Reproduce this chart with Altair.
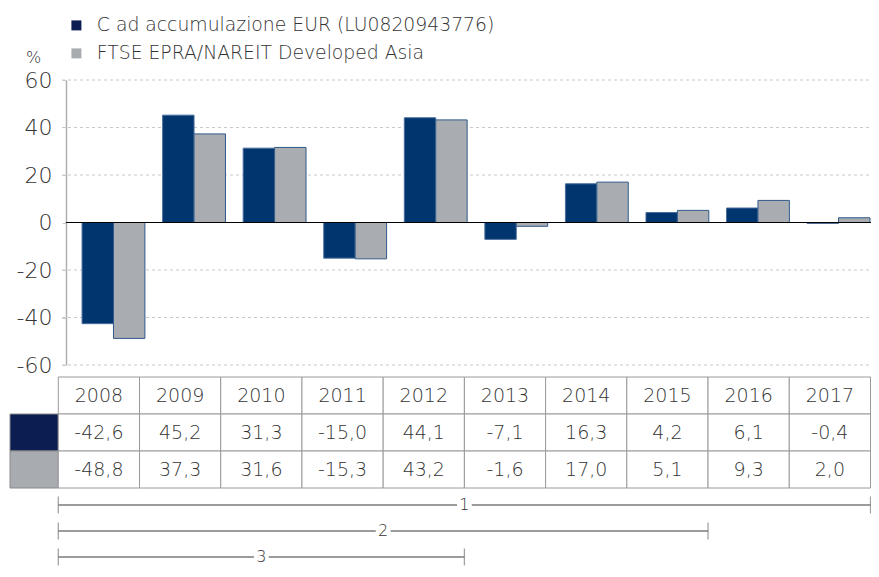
import altair as alt
import pandas as pd

# ---------------- data ----------------
years = [2008, 2009, 2010, 2011, 2012, 2013, 2014, 2015, 2016, 2017]
fund = [-42.6, 45.2, 31.3, -15.0, 44.1, -7.1, 16.3, 4.2, 6.1, -0.4]
index = [-48.8, 37.3, 31.6, -15.3, 43.2, -1.6, 17.0, 5.1, 9.3, 2.0]
series = ["C ad accumulazione EUR (LU0820943776)", "FTSE EPRA/NAREIT Developed Asia"]
y_ticks = [-60, -40, -20, 20, 40, 60]
bracket_labels = ["1", "2", "3"]
bracket_start = [2008, 2008, 2008]
bracket_end = [2017, 2015, 2012]

# ---------------- style ----------------
FONT = "DejaVu Sans"
WEIGHT = 200
TXT = "#333333"
bar_colors = ["#00356e", "#a9adb1"]
bar_strokes = ["#4a6d9c", "#2f5a8a"]
swatch_colors = ["#0b1d51", "#a8abaf"]

W, H = 861, 487

def fmt(v):
    return f"{v:.1f}".replace(".", ",")

bars_df = pd.DataFrame(
    [{"year": y, "series": series[0], "value": v} for y, v in zip(years, fund)]
    + [{"year": y, "series": series[1], "value": v} for y, v in zip(years, index)]
)
grid_df = pd.DataFrame({"value": y_ticks})
zero_df = pd.DataFrame({"value": [0]})

rows = ["header", series[0], series[1]]
table_df = pd.DataFrame(
    [{"year": y, "row": "header", "label": str(y)} for y in years]
    + [{"year": y, "row": series[0], "label": fmt(v)} for y, v in zip(years, fund)]
    + [{"year": y, "row": series[1], "label": fmt(v)} for y, v in zip(years, index)]
)
swatch_df = pd.DataFrame({"col": ["swatch", "swatch"], "row": series, "series": series})
brackets_df = pd.DataFrame({"label": bracket_labels, "start": bracket_start, "end": bracket_end})

# ---------------- bars section ----------------
yscale = alt.Scale(domain=[-60, 60], range=[285, 0], nice=False, zero=False)
yaxis = alt.Axis(
    values=[-60, -40, -20, 0, 20, 40, 60], offset=-56, grid=False,
    domain=True, domainColor="#b0b0b0", domainWidth=1.5,
    ticks=True, tickSize=4, tickColor="#cccccc",
    labelFontSize=22, labelFont=FONT, labelFontWeight=WEIGHT, labelColor=TXT, labelPadding=10,
    labelExpr="'' + datum.value",
    title="%", titleAngle=0, titleX=-33, titleY=-23, titleAlign="center",
    titleBaseline="middle", titleFontSize=16, titleFontWeight=WEIGHT,
    titleFont=FONT, titleColor=TXT,
)
xbar = alt.X("year:O", scale=alt.Scale(range=[63.2, 868.8], paddingInner=0.22, paddingOuter=0.11), axis=None)

grid = alt.Chart(grid_df).mark_rule(color="#c8c8c8", strokeDash=[3, 3], strokeWidth=1).encode(
    y=alt.Y("value:Q", scale=yscale, axis=yaxis),
    x=alt.value(52), x2=alt.value(W),
)
bars = alt.Chart(bars_df).mark_bar(strokeWidth=1).encode(
    x=xbar,
    xOffset=alt.XOffset("series:N", scale=alt.Scale(domain=series)),
    y=alt.Y("value:Q", scale=yscale, axis=yaxis),
    fill=alt.Fill("series:N", scale=alt.Scale(domain=series, range=bar_colors), legend=None),
    stroke=alt.Stroke("series:N", scale=alt.Scale(domain=series, range=bar_strokes), legend=None),
)
zero = alt.Chart(zero_df).mark_rule(color="black", strokeWidth=1).encode(
    y=alt.Y("value:Q", scale=yscale, axis=yaxis),
    x=alt.value(56), x2=alt.value(W),
)
bars_group = alt.layer(grid, bars, zero)

# ---------------- table section ----------------
ytab = alt.Y("row:N", scale=alt.Scale(domain=rows, range=[297, 408], paddingInner=0, paddingOuter=0), axis=None)
xtab = alt.X("year:O", scale=alt.Scale(range=[48.3, 860.5], paddingInner=0, paddingOuter=0), axis=None)

cells = alt.Chart(table_df).mark_rect(fill="white", stroke="#9a9a9a", strokeWidth=1).encode(x=xtab, y=ytab)
cell_text = alt.Chart(table_df).mark_text(font=FONT, fontSize=19, fontWeight=WEIGHT, color=TXT).encode(
    x=xtab, y=ytab, text="label:N"
)
table_core = alt.layer(cells, cell_text)
swatches = alt.Chart(swatch_df).mark_rect(stroke="#8a8a8a", strokeWidth=1).encode(
    x=alt.X("col:N", scale=alt.Scale(domain=["swatch"], range=[0, 48.3], paddingInner=0, paddingOuter=0), axis=None),
    y=ytab,
    fill=alt.Fill(
        "series:N",
        scale=alt.Scale(domain=series, range=swatch_colors),
        legend=alt.Legend(
            orient="none", legendX=57, legendY=-64, title=None, padding=0,
            symbolType="square", symbolSize=100, symbolStrokeWidth=0,
            labelFont=FONT, labelFontSize=18.8, labelFontWeight=WEIGHT, labelColor=TXT, labelOffset=11,
            rowPadding=8, labelLimit=600,
        ),
    ),
)
table_group = alt.layer(swatches, table_core).resolve_scale(x="independent")

# ---------------- brackets section ----------------
xbr = alt.Scale(domain=[2008, 2018], range=[48.3, 860.5], nice=False, zero=False)
ybr = alt.Y("label:N", scale=alt.Scale(type="point", domain=bracket_labels, range=[425, 477], padding=0), axis=None)
base_br = alt.Chart(brackets_df).transform_calculate(
    end1="datum.end + 1", mid="(datum.start + datum.end + 1) / 2"
)
br_line = base_br.mark_rule(color="#7a7a7a", strokeWidth=1.3).encode(
    x=alt.X("start:Q", scale=xbr, axis=None), x2="end1:Q", y=ybr
)
br_ticks = base_br.transform_fold(["start", "end1"], as_=["k", "pos"]).mark_tick(
    color="#7a7a7a", thickness=1.3, size=17
).encode(x=alt.X("pos:Q", scale=xbr, axis=None), y=ybr)
br_bg = base_br.mark_square(size=220, color="white", opacity=1, filled=True).encode(
    x=alt.X("mid:Q", scale=xbr, axis=None), y=ybr
)
br_text = base_br.mark_text(font=FONT, fontSize=16, fontWeight=WEIGHT, color=TXT).encode(
    x=alt.X("mid:Q", scale=xbr, axis=None), y=ybr, text="label:N"
)
brackets_group = alt.layer(br_line, br_ticks, br_bg, br_text)

chart = (
    alt.layer(bars_group, table_group, brackets_group)
    .resolve_scale(x="independent", y="independent", fill="independent", stroke="independent")
    .properties(
        width=W, height=H,
        autosize=alt.AutoSizeParams(type="none"),
        padding={"left": 2, "top": 72, "right": 0, "bottom": 0},
    )
    .configure(font=FONT)
    .configure_view(stroke=None)
)

chart.save("out.html", embed_options={"renderer": "svg", "actions": False})
